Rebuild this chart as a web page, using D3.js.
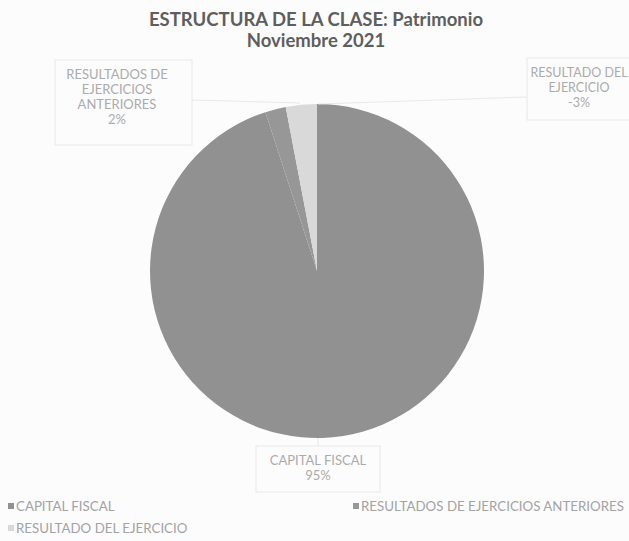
<!DOCTYPE html>
<html><head><meta charset="utf-8">
<script src="https://cdn.jsdelivr.net/npm/d3@7"></script>
<style>body{margin:0;background:#fcfcfc;} svg{display:block;}</style>
</head><body>
<svg id="chart" width="629" height="541"></svg>
<script>
const categories = ["CAPITAL FISCAL", "RESULTADOS DE EJERCICIOS ANTERIORES", "RESULTADO DEL EJERCICIO"];
const values = [95, 2, -3];
const percentLabels = ["95%", "2%", "-3%"];
const titleLines = ["ESTRUCTURA DE LA CLASE: Patrimonio", "Noviembre 2021"];
const colors = ["#919191", "#979797", "#d9d9d9"];

const svg = d3.select("#chart");
svg.append("rect").attr("width", 629).attr("height", 541).attr("fill", "#fcfcfc");

const font = "Lato, 'Open Sans', sans-serif";
svg.append("g").selectAll("text").data(titleLines).join("text")
  .attr("x", 316).attr("y", (d, i) => 26 + i * 21)
  .attr("text-anchor", "middle").attr("font-family", font)
  .attr("font-size", 18.5).attr("font-weight", "bold").attr("fill", "#5e5e5e")
  .text(d => d);

const cx = 317, cy = 271, r = 167;
const data = categories.map((c, i) => ({ name: c, value: values[i], pct: percentLabels[i], color: colors[i] }));
const pie = d3.pie().sort(null).value(d => Math.abs(d.value));
const arcs = pie(data);
const arc = d3.arc().innerRadius(0).outerRadius(r);

const g = svg.append("g").attr("transform", `translate(${cx},${cy})`);
g.selectAll("path").data(arcs).join("path")
  .attr("d", arc).attr("fill", d => d.data.color);

// label boxes and leader lines
const boxStroke = "#e8e8e8";
const labelColor = "#ababab";
const labelDefs = [
  { i: 0, lines: ["CAPITAL FISCAL"], x: 318, y: 465, box: [256, 446, 124, 46], leader: [[318, 438], [318, 446]], fs: 13 },
  { i: 1, lines: ["RESULTADOS DE", "EJERCICIOS", "ANTERIORES"], x: 117, y: 79, box: [55, 60, 137, 85], leader: [[192, 100], [300, 103]], fs: 13 },
  { i: 2, lines: ["RESULTADO DEL", "EJERCICIO"], x: 579, y: 77, box: [527, 58, 110, 62], leader: [[527, 97], [318, 104]], fs: 12.5 }
];
const lg = svg.append("g");
labelDefs.forEach(L => {
  lg.append("rect").attr("x", L.box[0]).attr("y", L.box[1]).attr("width", L.box[2]).attr("height", L.box[3])
    .attr("fill", "none").attr("stroke", boxStroke).attr("stroke-width", 1);
  lg.append("path").attr("d", d3.line()(L.leader)).attr("stroke", boxStroke).attr("fill", "none");
  const all = L.lines.concat([data[L.i].pct]);
  all.forEach((t, k) => {
    lg.append("text").attr("x", L.x).attr("y", L.y + k * 15)
      .attr("text-anchor", "middle").attr("font-family", font).attr("font-size", L.fs)
      .attr("fill", labelColor).text(t);
  });
});

// legend
const legendPos = [[8, 511], [353, 511], [8, 533]];
const leg = svg.append("g");
data.forEach((d, i) => {
  const [x, y] = legendPos[i];
  leg.append("rect").attr("x", x).attr("y", y - 8).attr("width", 6).attr("height", 6).attr("fill", d.color);
  leg.append("text").attr("x", x + 8).attr("y", y).attr("font-family", font).attr("font-size", 13.3)
    .attr("fill", "#a3a3a3").text(d.name);
});
</script>
</body></html>
